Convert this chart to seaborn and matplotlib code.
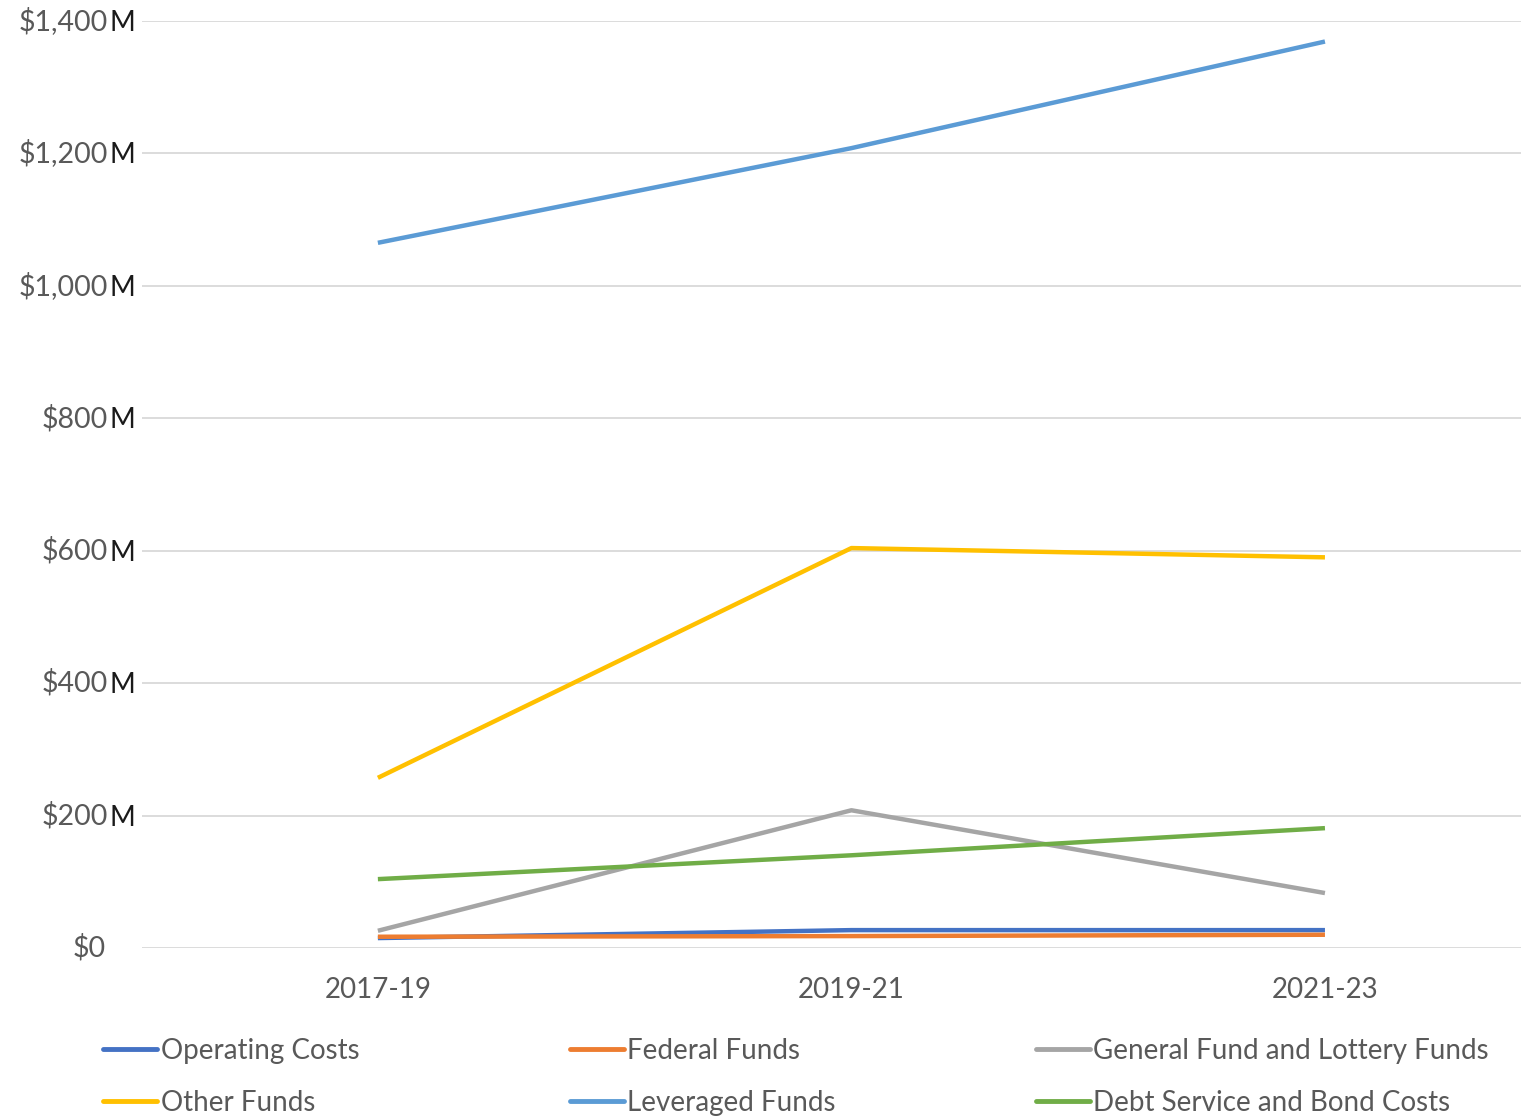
import matplotlib
matplotlib.use("Agg")
import matplotlib.pyplot as plt
from matplotlib.lines import Line2D
import seaborn as sns
import pandas as pd

# Biennium budget figures, in millions of dollars
periods = ["2017-19", "2019-21", "2021-23"]
operating_costs = [15, 27, 27]
federal_funds = [17, 18, 20]
general_lottery_funds = [26, 208, 83]
other_funds = [257, 604, 590]
leveraged_funds = [1065, 1208, 1369]
debt_service_bond_costs = [104, 140, 181]

series_names = [
    "Operating Costs",
    "Federal Funds",
    "General Fund and Lottery Funds",
    "Other Funds",
    "Leveraged Funds",
    "Debt Service and Bond Costs",
]
series_values = [
    operating_costs,
    federal_funds,
    general_lottery_funds,
    other_funds,
    leveraged_funds,
    debt_service_bond_costs,
]
series_colors = ["#4472C4", "#ED7D31", "#A5A5A5", "#FFC000", "#5B9BD5", "#70AD47"]
y_ticks = [0, 200, 400, 600, 800, 1000, 1200, 1400]

rows = []
for name, vals in zip(series_names, series_values):
    for i, (p, v) in enumerate(zip(periods, vals)):
        rows.append({"period": p, "pos": i, "series": name, "value": v})
df = pd.DataFrame(rows)

sns.set_theme(style="white")
plt.rcParams["font.family"] = ["Lato", "DejaVu Sans"]

text_grey = "#595959"
fig = plt.figure(figsize=(15.21, 11.17), dpi=100)
ax = fig.add_axes([0.0934, 0.1513, 0.9066, 0.8299])

sns.lineplot(
    data=df, x="pos", y="value", hue="series", hue_order=series_names,
    palette=dict(zip(series_names, series_colors)), linewidth=3.2,
    legend=False, ax=ax, sort=False,
)
for line in ax.get_lines():
    line.set_solid_capstyle("butt")

ax.set_xlim(-0.498, 2.414)
ax.set_ylim(0, 1400)
ax.set_xticks(range(len(periods)))
ax.set_xticklabels(periods, fontsize=20, color=text_grey)
ax.tick_params(axis="x", length=0, pad=21)
ax.set_yticks(y_ticks)
ax.set_yticklabels([""] * len(y_ticks))
ax.tick_params(axis="y", length=0)
ax.set_xlabel("")
ax.set_ylabel("")
ax.grid(axis="y", color="#D9D9D9", linewidth=1.3)
ax.set_axisbelow(True)
for s in ax.spines.values():
    s.set_visible(False)

# Y labels: grey dollar amount followed by a black unit suffix (none at zero)
trans = ax.get_yaxis_transform()
for t in y_ticks:
    if t == 0:
        ax.text(-0.026, t, "$0", transform=trans, ha="right", va="center",
                fontsize=20.5, color=text_grey)
        continue
    ax.text(-0.0245, t, f"${t:,}", transform=trans, ha="right", va="center",
            fontsize=20.5, color=text_grey)
    ax.text(-0.005, t - 3, "M", transform=trans, ha="right", va="center",
            fontsize=20, color="#1a1a1a")

# Legend laid out as three columns of two entries
col_x = [0.0678, 0.3746, 0.681]
for c in range(3):
    handles = []
    labels = []
    for r in range(2):
        k = r * 3 + c
        handles.append(Line2D([0], [0], color=series_colors[k], linewidth=3.5))
        labels.append(series_names[k])
    fig.legend(
        handles, labels, loc="upper left", bbox_to_anchor=(col_x[c], 0.071),
        frameon=False, fontsize=20, labelcolor=text_grey, handlelength=1.95,
        handletextpad=0.12, labelspacing=0.95, borderaxespad=0, borderpad=0,
    )

fig.savefig("out.png", dpi=100)
